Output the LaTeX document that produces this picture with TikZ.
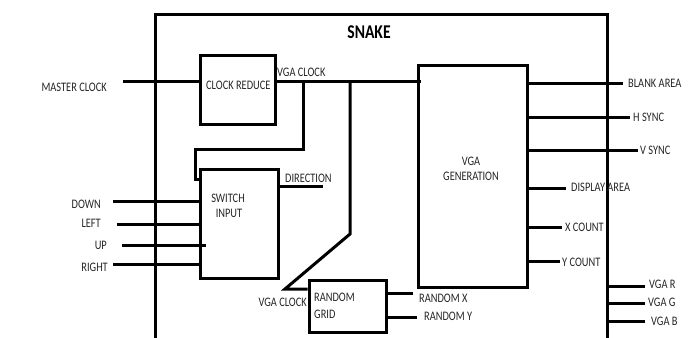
\documentclass[tikz,border=0pt]{standalone}
\usepackage{fontspec}
\setmainfont{Carlito}[FakeStretch=0.8]
\begin{document}
\begin{tikzpicture}[x=1pt,y=-1pt,
  wire/.style={line width=3pt},
  blk/.style={draw,line width=3pt,inner sep=0pt},
  lbl/.style={inner sep=0pt,font=\fontsize{13}{14}\selectfont,text=black!85},
  lblr/.style={lbl,anchor=west},
  lbll/.style={lbl,anchor=east}]
\useasboundingbox (0,0) rectangle (700,337);
% outer frame
\draw[line width=3pt] (155,345) -- (155,15) -- (607,15) -- (607,345);
\node[inner sep=0pt,font=\fontsize{19.5}{20}\bfseries\selectfont] (title) at (369,32) {SNAKE};
% blocks
\node[blk,minimum width=75pt,minimum height=69pt] (cr) at (237.5,89.5) {};
\node[blk,minimum width=78pt,minimum height=109pt] (sw) at (239,223.5) {};
\node[blk,minimum width=109pt,minimum height=222pt] (vga) at (472.5,176) {};
\node[blk,minimum width=77pt,minimum height=52pt] (rg) at (347.5,306) {};
% block texts
\node[lblr] (crt) at (206,85) {CLOCK REDUCE};
\node[lbl] (swt1) at (228,198) {SWITCH};
\node[lbl] (swt2) at (229,213) {INPUT};
\node[lbl] (vgat1) at (471,161) {VGA};
\node[lbl] (vgat2) at (471,176) {GENERATION};
\node[lblr] (rgt1) at (314,297) {RANDOM};
\node[lblr] (rgt2) at (314,314) {GRID};
% master clock
\node[lbll] (mcl) at (107,87) {MASTER CLOCK};
\coordinate (mc) at (123,81);
\draw[wire] (mc) -- (mc -| cr.west);
% vga clock bus
\node[lblr] (vcl) at (277,72) {VGA CLOCK};
\coordinate (j1) at (303,81);
\coordinate (j2) at (350,81);
\coordinate (ve) at (421,81);
\draw[wire] (cr.east |- j1) -- (j1) -- (j2) -- (ve);
\draw[wire] (j1) -- (303,149) -- (195,149) -- (195,179) -- (195,179 -| sw.west);
\draw[wire] (j2) -- (350,234) -- (285,289) -- (285,289 -| rg.west);
\node[lbll] (vcl2) at (307,302) {VGA CLOCK};
% switch inputs
\node[lbll] (dn) at (101,204) {DOWN};
\node[lbll] (lf) at (101,223) {LEFT};
\node[lbll] (up) at (107,245) {UP};
\node[lbll] (rt) at (108,267) {RIGHT};
\coordinate (dnc) at (113,201);
\coordinate (lfc) at (117,224);
\coordinate (upc) at (122,245);
\coordinate (rtc) at (113,264);
\draw[wire] (dnc) -- (dnc -| sw.west);
\draw[wire] (lfc) -- (lfc -| sw.west);
\draw[wire] (upc) -- (206,245);
\draw[wire] (rtc) -- (rtc -| sw.west);
% direction
\coordinate (dir) at (323,186);
\draw[wire] (dir -| sw.east) -- (dir);
\node[lblr] (dirl) at (285,178) {DIRECTION};
% vga outputs
\coordinate (ba) at (623,83);
\coordinate (hs) at (630,117);
\coordinate (vs) at (638,150);
\coordinate (da) at (566,188);
\coordinate (xc) at (562,227);
\coordinate (yc) at (560,261);
\foreach \c in {ba,hs,vs,da,xc,yc} \draw[wire] (\c -| vga.east) -- (\c);
\node[lblr] (bal) at (628,83) {BLANK AREA};
\node[lblr] (hsl) at (633,117) {H SYNC};
\node[lblr] (vsl) at (640,150) {V SYNC};
\node[lblr] (dal) at (571,187) {DISPLAY AREA};
\node[lblr] (xcl) at (565,227) {X COUNT};
\node[lblr] (ycl) at (562,262) {Y COUNT};
% random outputs
\coordinate (rx) at (413,293);
\coordinate (ry) at (417,317);
\draw[wire] (rx -| rg.east) -- (rx);
\draw[wire] (ry -| rg.east) -- (ry);
\node[lblr] (rxl) at (419,298) {RANDOM X};
\node[lblr] (ryl) at (424,316) {RANDOM Y};
% vga rgb
\coordinate (vr) at (645,286);
\coordinate (vgg) at (645,303);
\coordinate (vb) at (645,321);
\draw[wire] (607,286) -- (vr);
\draw[wire] (607,303) -- (vgg);
\draw[wire] (607,321) -- (vb);
\node[lblr] (vrl) at (649,284) {VGA R};
\node[lblr] (vgl) at (648,302) {VGA G};
\node[lblr] (vbl) at (651,321) {VGA B};
\end{tikzpicture}
\end{document}
